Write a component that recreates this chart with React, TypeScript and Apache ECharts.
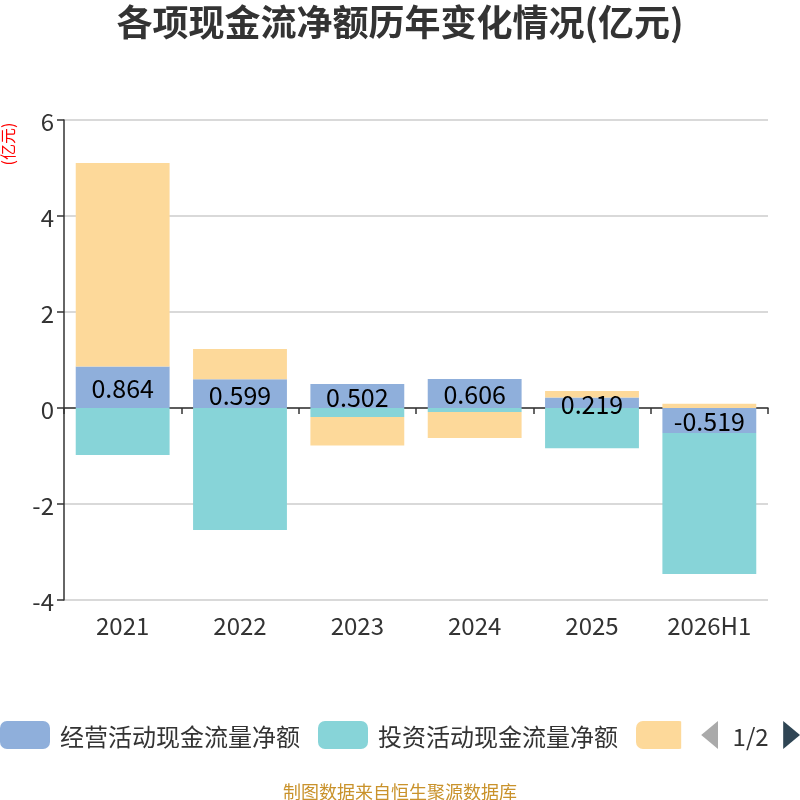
import React, { useEffect, useRef } from "react";
import * as echarts from "echarts";

const categories = ["2021", "2022", "2023", "2024", "2025", "2026H1"];
const operating = [0.864, 0.599, 0.502, 0.606, 0.219, -0.519];
const investing = [-0.98, -2.54, -0.19, -0.083, -0.84, -2.94];
const financing = [4.24, 0.63, -0.59, -0.54, 0.135, 0.09];
const seriesNames = ["经营活动现金流量净额", "投资活动现金流量净额", "筹资活动现金流量净额"];
const colors = ["#8FAFDB", "#87D4D8", "#FDD99A"];

const FONT = "'Microsoft YaHei', 'Noto Sans CJK SC', sans-serif";

export default function App() {
  const ref = useRef<HTMLDivElement>(null);
  useEffect(() => {
    if (!ref.current) return;
    const chart = echarts.init(ref.current, undefined, { renderer: "svg" });
    chart.setOption({
      animation: false,
      textStyle: { fontFamily: FONT },
      title: [
        {
          text: "各项现金流净额历年变化情况(亿元)",
          left: "center",
          top: 0,
          padding: [2, 5, 5, 5],
          textStyle: { fontSize: 36, fontWeight: "bold", color: "#333", fontFamily: FONT },
        },
        {
          text: "制图数据来自恒生聚源数据库",
          left: "center",
          top: 777,
          textStyle: { fontSize: 18, fontWeight: "normal", color: "#C9922B", fontFamily: FONT },
        },
      ],
      graphic: [
        {
          type: "text",
          x: 7,
          y: 144,
          rotation: Math.PI / 2,
          style: {
            text: "(亿元)",
            fill: "#ff0000",
            fontSize: 16,
            fontFamily: FONT,
            align: "center",
            verticalAlign: "middle",
          },
        },
      ],
      legend: {
        type: "scroll",
        left: 0,
        right: 0,
        top: 716,
        padding: [5, 0, 5, 0],
        itemWidth: 50,
        itemHeight: 28,
        itemGap: 18,
        icon: "roundRect",
        textStyle: { fontSize: 24, color: "#333", fontFamily: FONT, padding: [0, 0, 0, 5] },
        pageIconSize: [17, 28],
        pageButtonItemGap: 4,
        pageButtonGap: 20,
        pageTextStyle: { fontSize: 24, color: "#333", fontFamily: FONT },
        pageIconColor: "#2f4554",
        pageIconInactiveColor: "#aaa",
        data: seriesNames,
      },
      grid: { left: 64, right: 32, top: 120, bottom: 200 },
      xAxis: [
        {
          type: "category",
          data: categories,
          position: "bottom",
          axisLine: { show: false, onZero: false },
          axisTick: { show: false },
          axisLabel: { fontSize: 24, color: "#333", margin: 12, fontFamily: FONT },
        },
        {
          type: "category",
          data: categories,
          position: "top",
          axisLine: { show: true, onZero: true, lineStyle: { color: "#333", width: 1.5 } },
          axisTick: { show: true, inside: true, length: 6, lineStyle: { color: "#333", width: 1.5 } },
          axisLabel: { show: false },
          splitLine: { show: false },
        },
      ],
      yAxis: {
        type: "value",
        min: -4,
        max: 6,
        interval: 2,
        axisLine: { show: true, lineStyle: { color: "#333", width: 1.5 } },
        axisTick: { show: true, length: 7, lineStyle: { color: "#333", width: 1.5 } },
        axisLabel: { fontSize: 24, color: "#333", margin: 10, fontFamily: FONT },
        splitLine: { lineStyle: { color: "#ccc", width: 1.5 } },
      },
      series: [
        {
          name: seriesNames[0],
          type: "bar",
          stack: "total",
          barWidth: "80%",
          data: operating,
          itemStyle: { color: colors[0] },
          label: {
            show: true,
            position: "inside",
            fontSize: 25,
            color: "#000",
            fontFamily: FONT,
            formatter: (p: any) => String(p.value),
          },
        },
        {
          name: seriesNames[1],
          type: "bar",
          stack: "total",
          barWidth: "80%",
          data: investing,
          itemStyle: { color: colors[1] },
        },
        {
          name: seriesNames[2],
          type: "bar",
          stack: "total",
          barWidth: "80%",
          data: financing,
          itemStyle: { color: colors[2] },
        },
      ],
    });
    return () => chart.dispose();
  }, []);
  return (
    <div
      ref={ref}
      style={{ position: "fixed", left: 0, top: 0, width: 800, height: 800 }}
    />
  );
}
